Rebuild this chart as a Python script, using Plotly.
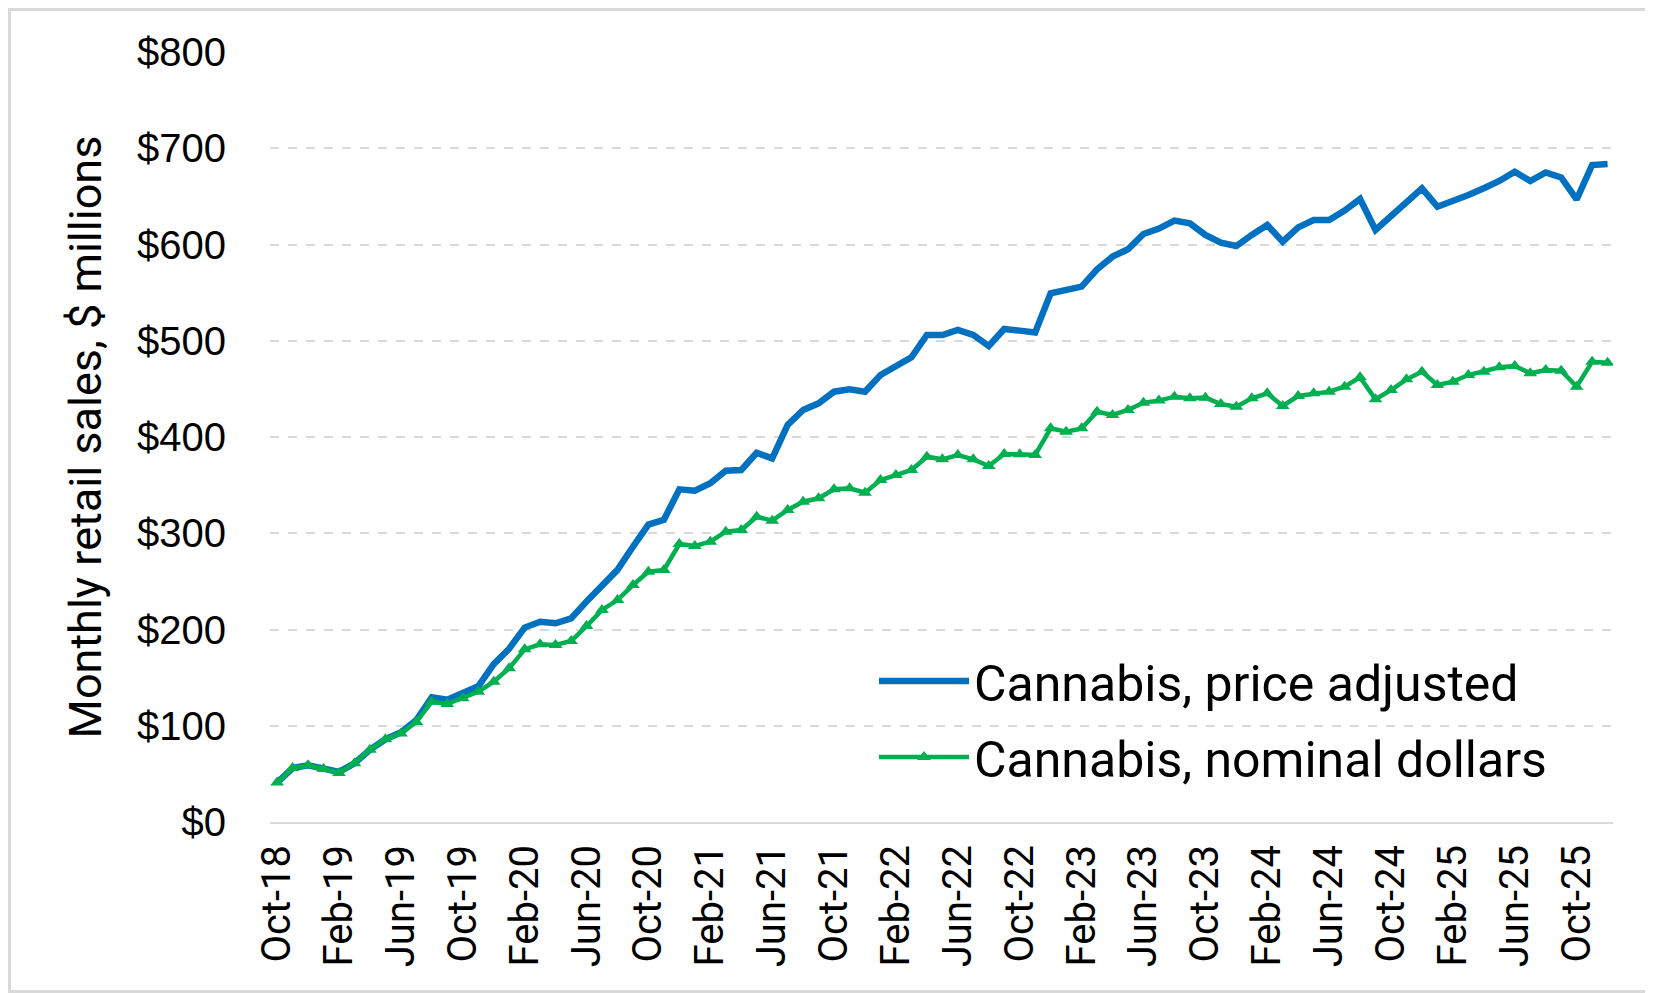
import plotly.graph_objects as go

month_names = ["Jan", "Feb", "Mar", "Apr", "May", "Jun", "Jul", "Aug", "Sep", "Oct", "Nov", "Dec"]
labels = []
for k in range(87):
    m = (9 + k) % 12
    y = 18 + (9 + k) // 12
    labels.append(f"{month_names[m]}-{y:02d}")

price_adjusted = [
    41, 56, 59, 55, 52, 61, 75, 86, 93, 106,
    129.5, 127, 134, 141, 164, 180, 202, 208, 206.5, 211.5,
    229, 246, 262, 286, 309, 314,
    345.6, 344.2, 351.9, 365, 365.7, 383.6, 377.8, 412.5, 428.1, 435,
    447.1, 449.5, 447.1, 464.4, 473, 482.8, 506, 506, 511.2, 506,
    494.5, 512.2, 510.5, 508.7,
    549.2, 552, 556.2, 574.2, 587.4, 595, 610.9, 616.5, 624.8, 622,
    609.9, 601.9, 598.4, 609.9, 620.3,
    602.9, 617.8, 625.5, 625.5, 635.2, 647.3, 615.1, 629.6, 645.2, 658.4,
    639.3, 644.5, 651.4, 658.4, 666, 675.6, 666, 674.9, 669.7, 646.8,
    682.6, 683.6,
]

nominal = [
    41, 56, 59, 55, 51, 61, 75, 86, 92, 104,
    125, 122.6, 128.5, 135.4, 145.8, 159.7, 179.4, 184.6, 183.9, 188,
    203.6, 220.3, 230.6, 246.2, 260, 261.8,
    288.8, 286.8, 291.2, 301.6, 303.4, 317.2, 313.1, 324.2, 332.8, 336.3,
    345.7, 346.7, 342.1, 355.3, 360.5, 365.7, 379.5, 376.8, 381.3, 376.8,
    369.9, 382.3, 382, 381.3,
    409, 405.5, 409, 426.3, 422.9, 428.1, 435.7, 437.8, 441.9, 440.2,
    440.9, 434.3, 431.5, 440.2, 445.4,
    432.2, 442.6, 445.4, 447.1, 452.3, 462, 439.2, 448.8, 459.9, 467.9,
    454, 457.5, 464.4, 467.9, 472.4, 473.8, 466.2, 469.6, 468.9, 452.3,
    478.2, 477.2,
]

y_ticks = [0, 100, 200, 300, 400, 500, 600, 700, 800]
y_ticktext = [f"${v}" for v in y_ticks]
x_ticks = labels[::4]

BLUE = "#0070C0"
GREEN = "#00B050"
GRID = "#D9D9D9"

fig = go.Figure()
fig.add_trace(go.Scatter(
    x=labels, y=price_adjusted, mode="lines", name="Cannabis, price adjusted",
    line=dict(color=BLUE, width=6.5), legendgroup="a",
))
fig.add_trace(go.Scatter(
    x=labels, y=nominal, mode="lines+markers", name="Cannabis, nominal dollars",
    line=dict(color=GREEN, width=4.5),
    marker=dict(symbol="triangle-up", size=12, color=GREEN),
    legendgroup="b",
))

# page has an 8px body margin; figure sized so the page fits the window
W, H = 1645, 985
L, R, T, B = 262, 40, 44, 171
pw, ph = W - L - R, H - T - B

fig.add_shape(
    type="rect", xref="paper", yref="paper",
    x0=(1.5 - L) / pw, x1=(W - 1.5 - L) / pw,
    y0=-(B - 1.5) / ph, y1=1 + (T - 1.5) / ph,
    line=dict(color=GRID, width=3), fillcolor="rgba(0,0,0,0)", layer="below",
)

fig.update_layout(
    width=W, height=H,
    margin=dict(l=L, r=R, t=T, b=B),
    paper_bgcolor="white", plot_bgcolor="white",
    font=dict(family="Roboto", color="black"),
    showlegend=True,
    legend=dict(
        x=(866 - L) / pw, y=(814 - 634) / ph, xanchor="left", yanchor="top",
        font=dict(size=50, family="Roboto", color="black"),
        bgcolor="rgba(0,0,0,0)", itemwidth=90, traceorder="grouped",
        tracegroupgap=8,
    ),
    xaxis=dict(
        type="category", range=[-0.46, 86.35],
        tickmode="array", tickvals=x_ticks, ticktext=x_ticks,
        tickangle=-90, tickfont=dict(size=40, family="Roboto"),
        showgrid=False, showline=True, linecolor=GRID, linewidth=2,
        ticks="", ticklabelstandoff=5, zeroline=False,
    ),
    yaxis=dict(
        range=[0, 800], tickmode="array", tickvals=y_ticks, ticktext=y_ticktext,
        tickfont=dict(size=40, family="Liberation Sans"),
        showgrid=True, gridcolor=GRID, griddash="dash", gridwidth=1.5,
        zeroline=False, ticks="", ticklabelstandoff=43,
        title=dict(text="Monthly retail sales, $ millions",
                   font=dict(size=45, family="Roboto"), standoff=21),
    ),
)

fig.write_html("out.html")
